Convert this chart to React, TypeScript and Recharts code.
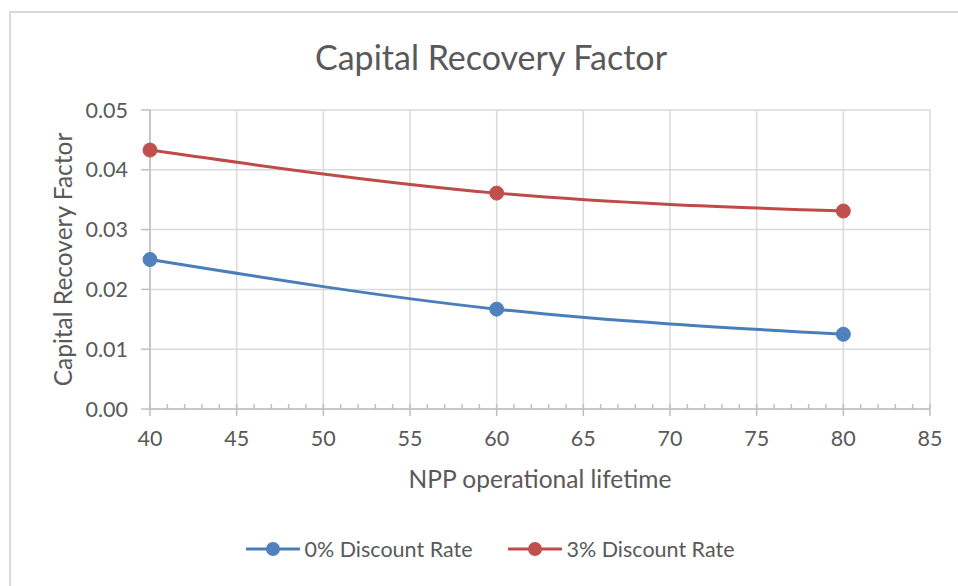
import React from "react";
import {
  LineChart,
  Line,
  XAxis,
  YAxis,
  CartesianGrid,
  Legend,
} from "recharts";

const lifetimes = [40, 60, 80];
const rate0 = [0.025, 0.0167, 0.0125];
const rate3 = [0.0433, 0.0361, 0.0331];

const xMajorTicks = [40, 45, 50, 55, 60, 65, 70, 75, 80, 85];
const xMinorTicks = [
  40, 41, 42, 43, 44, 45, 46, 47, 48, 49, 50, 51, 52, 53, 54, 55, 56, 57, 58, 59,
  60, 61, 62, 63, 64, 65, 66, 67, 68, 69, 70, 71, 72, 73, 74, 75, 76, 77, 78, 79,
  80, 81, 82, 83, 84, 85,
];
const yMajorTicks = [0, 0.01, 0.02, 0.03, 0.04, 0.05];
const yMinorTicks = [
  0, 0.002, 0.004, 0.006, 0.008, 0.01, 0.012, 0.014, 0.016, 0.018, 0.02, 0.022,
  0.024, 0.026, 0.028, 0.03, 0.032, 0.034, 0.036, 0.038, 0.04, 0.042, 0.044,
  0.046, 0.048, 0.05,
];

const seriesNames = ["0% Discount Rate", "3% Discount Rate"];
const lineColors = ["#4A7EBB", "#BE4B48"];
const markerColors = ["#4F81BD", "#C0504D"];

const data = lifetimes.map((t, i) => ({ t, r0: rate0[i], r3: rate3[i] }));

const FONT = "Lato, 'Open Sans', sans-serif";
const TEXT = "#595959";
const GRID = "#D9D9D9";
const AXIS = "#BFBFBF";

const LegendContent = () => (
  <div
    style={{
      display: "flex",
      justifyContent: "center",
      alignItems: "center",
      height: 30,
      fontFamily: FONT,
      fontSize: 21.5,
      color: TEXT,
    }}
  >
    {seriesNames.map((n, i) => (
      <div
        key={n}
        style={{ display: "flex", alignItems: "center", marginRight: i === 0 ? 35 : 0 }}
      >
        <svg width={54} height={16} style={{ marginRight: 5 }}>
          <line x1={1} y1={8} x2={53} y2={8} stroke={lineColors[i]} strokeWidth={3} strokeLinecap="round" />
          <circle cx={27} cy={8} r={7} fill={markerColors[i]} />
        </svg>
        <span>{n}</span>
      </div>
    ))}
  </div>
);

const XLabel = (props: any) => {
  const vb = props.viewBox;
  return (
    <text
      x={vb.x + vb.width / 2}
      y={vb.y + 79}
      textAnchor="middle"
      fill={TEXT}
      fontFamily={FONT}
      fontSize={24.5}
    >
      NPP operational lifetime
    </text>
  );
};

const YLabel = (props: any) => {
  const vb = props.viewBox;
  const cx = 62;
  const cy = vb.y + vb.height / 2;
  return (
    <text
      x={cx}
      y={cy}
      textAnchor="middle"
      dominantBaseline="central"
      transform={`rotate(-90, ${cx}, ${cy})`}
      fill={TEXT}
      fontFamily={FONT}
      fontSize={24.5}
    >
      Capital Recovery Factor
    </text>
  );
};

const EmptyTick = () => <g />;

export default function App() {
  return (
    <div
      style={{
        position: "absolute",
        left: 0,
        top: 0,
        width: 958,
        height: 586,
        background: "#fff",
        overflow: "hidden",
      }}
    >
      <div
        style={{
          position: "absolute",
          left: 9,
          top: 11,
          width: 1000,
          height: 700,
          border: "2px solid #D9D9D9",
        }}
      />
      <div
        style={{
          position: "absolute",
          left: 0,
          width: 982,
          top: 37,
          textAlign: "center",
          fontFamily: FONT,
          fontSize: 34,
          color: TEXT,
          lineHeight: "40px",
        }}
      >
        Capital Recovery Factor
      </div>
      <div style={{ position: "absolute", left: 0, top: 0 }}>
        <LineChart
          width={958}
          height={586}
          data={data}
          margin={{ top: 110, right: 28, bottom: 7, left: 0 }}
        >
          <CartesianGrid stroke={GRID} strokeWidth={1.5} />
          <XAxis
            dataKey="t"
            type="number"
            domain={[40, 85]}
            ticks={xMajorTicks}
            interval={0}
            height={140}
            stroke={AXIS}
            strokeWidth={1.5}
            tickSize={7}
            tickMargin={15}
            tick={{ fill: TEXT, fontFamily: FONT, fontSize: 21.5 }}
            label={<XLabel />}
          />
          <XAxis
            xAxisId="minor"
            dataKey="t"
            type="number"
            domain={[40, 85]}
            ticks={xMinorTicks}
            interval={0}
            mirror
            height={2}
            axisLine={false}
            tick={<EmptyTick />}
            tickSize={5}
            stroke={AXIS}
            tickLine={{ stroke: AXIS, strokeWidth: 1.5 }}
          />
          <YAxis
            type="number"
            domain={[0, 0.05]}
            ticks={yMajorTicks}
            interval={0}
            width={150}
            stroke={AXIS}
            strokeWidth={1.5}
            tickSize={9}
            tickMargin={13}
            tickFormatter={(v: number) => v.toFixed(2)}
            tick={{ fill: TEXT, fontFamily: FONT, fontSize: 21.5 }}
            label={<YLabel />}
          />
          <YAxis
            yAxisId="minor"
            type="number"
            domain={[0, 0.05]}
            ticks={yMinorTicks}
            interval={0}
            mirror
            width={2}
            axisLine={false}
            tick={<EmptyTick />}
            tickSize={5}
            stroke={AXIS}
            tickLine={{ stroke: AXIS, strokeWidth: 1.5 }}
          />
          <Legend
            verticalAlign="bottom"
            content={<LegendContent />}
            wrapperStyle={{ top: 534, bottom: "auto", left: 0, width: 980, height: 30 }}
          />
          <Line
            type="monotone"
            dataKey="r0"
            name={seriesNames[0]}
            stroke={lineColors[0]}
            strokeWidth={3}
            dot={{ r: 7, fill: markerColors[0], stroke: markerColors[0], strokeWidth: 1 }}
            activeDot={false}
            isAnimationActive={false}
          />
          <Line
            type="monotone"
            dataKey="r3"
            name={seriesNames[1]}
            stroke={lineColors[1]}
            strokeWidth={3}
            dot={{ r: 7, fill: markerColors[1], stroke: markerColors[1], strokeWidth: 1 }}
            activeDot={false}
            isAnimationActive={false}
          />
        </LineChart>
      </div>
    </div>
  );
}
